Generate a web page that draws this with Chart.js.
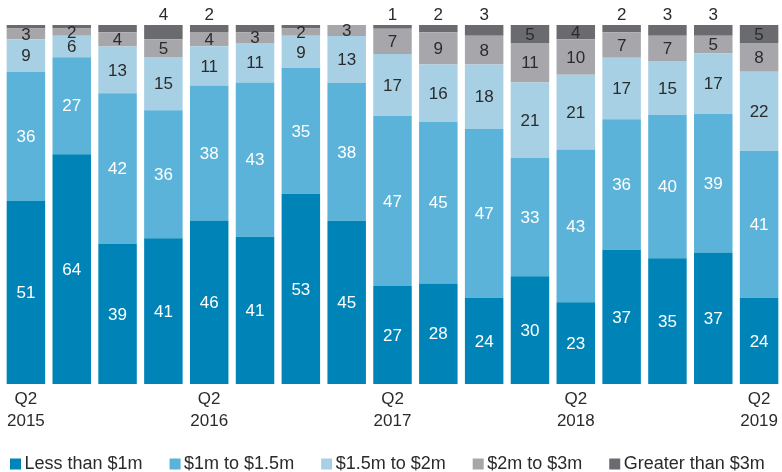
<!DOCTYPE html>
<html>
<head>
<meta charset="utf-8">
<script src="https://cdn.jsdelivr.net/npm/chart.js@4/dist/chart.umd.min.js"></script>
<style>
html,body{margin:0;padding:0;background:#fff;}
#wrap{width:782px;height:472px;position:relative;}
</style>
</head>
<body>
<div id="wrap"><canvas id="c" width="782" height="472"></canvas></div>
<script>
const categories = ['Q2 2015','Q3 2015','Q4 2015','Q1 2016','Q2 2016','Q3 2016','Q4 2016','Q1 2017','Q2 2017','Q3 2017','Q4 2017','Q1 2018','Q2 2018','Q3 2018','Q4 2018','Q1 2019','Q2 2019'];
const tickLabels = [['Q2','2015'],'','','',['Q2','2016'],'','','',['Q2','2017'],'','','',['Q2','2018'],'','','',['Q2','2019']];
const seriesNames = ['Less than $1m','$1m to $1.5m','$1.5m to $2m','$2m to $3m','Greater than $3m'];
const lessThan1m = [51,64,39,41,46,41,53,45,27,28,24,30,23,37,35,37,24];
const m1to1_5 = [36,27,42,36,38,43,35,38,47,45,47,33,43,36,40,39,41];
const m1_5to2 = [9,6,13,15,11,11,9,13,17,16,18,21,21,17,15,17,22];
const m2to3 = [3,2,4,5,4,3,2,3,7,9,8,11,10,7,7,5,8];
const gt3m = [1,1,2,4,2,2,1,0,1,2,3,5,4,2,3,3,5];
// where the "Greater than $3m" label is shown: inside the segment, above the bar, or not shown
const gt3mLabelPos = ['','','','above','above','','','','above','above','above','inside','inside','above','above','above','inside'];

const raw = [lessThan1m, m1to1_5, m1_5to2, m2to3, gt3m];
const totals = categories.map((_, i) => raw.reduce((s, arr) => s + arr[i], 0));
const colors = ['#0084b7','#5cb3d9','#a7d0e5','#a7a7ab','#6a6b6f'];
const textColors = ['#ffffff','#ffffff','#2b2b2b','#2b2b2b','#2b2b2b'];

const datasets = raw.map((arr, k) => ({
  label: seriesNames[k],
  data: arr.map((v, i) => v / totals[i] * 100),
  rawValues: arr,
  backgroundColor: colors[k],
  borderWidth: 0,
  categoryPercentage: 1.0,
  barPercentage: 0.84
}));

const valueLabels = {
  id: 'valueLabels',
  afterDatasetsDraw(chart) {
    const ctx = chart.ctx;
    ctx.save();
    ctx.font = '17px "Liberation Sans", Arial, sans-serif';
    ctx.textAlign = 'center';
    ctx.textBaseline = 'middle';
    chart.data.datasets.forEach((ds, di) => {
      const meta = chart.getDatasetMeta(di);
      meta.data.forEach((bar, i) => {
        const v = ds.rawValues[i];
        let pos = di === 4 ? gt3mLabelPos[i] : 'inside';
        if (!pos) return;
        if (pos === 'inside') {
          ctx.fillStyle = textColors[di];
          ctx.fillText(String(v), bar.x, (bar.y + bar.base) / 2 + 1);
        } else {
          ctx.fillStyle = '#2b2b2b';
          ctx.fillText(String(v), bar.x, chart.chartArea.top - 10);
        }
      });
    });
    ctx.restore();
  }
};

const customLegend = {
  id: 'customLegend',
  afterDraw(chart) {
    const ctx = chart.ctx;
    ctx.save();
    ctx.font = '18px "Liberation Sans", Arial, sans-serif';
    ctx.textBaseline = 'middle';
    ctx.textAlign = 'left';
    let x = 10;
    const yc = 464;
    chart.data.datasets.forEach((ds, k) => {
      ctx.fillStyle = colors[k];
      ctx.fillRect(x, yc - 5.5, 11, 11);
      ctx.fillStyle = '#2b2b2b';
      ctx.fillText(ds.label, x + 14.5, yc);
      x += 14.5 + ctx.measureText(ds.label).width + 27;
    });
    ctx.restore();
  }
};

new Chart(document.getElementById('c'), {
  type: 'bar',
  data: { labels: tickLabels, datasets },
  options: {
    responsive: false,
    animation: false,
    layout: { padding: { top: 25, left: 3, right: -2, bottom: 0 } },
    plugins: { legend: { display: false }, tooltip: { enabled: false } },
    scales: {
      x: {
        stacked: true,
        grid: { display: false, drawTicks: false },
        border: { display: false },
        ticks: {
          autoSkip: false, maxRotation: 0, minRotation: 0, padding: 4,
          color: '#2b2b2b',
          font: { family: '"Liberation Sans", Arial, sans-serif', size: 17, lineHeight: 1.3 }
        },
        afterFit(scale) { scale.height = 88; }
      },
      y: {
        stacked: true, display: false, min: 0, max: 100
      }
    }
  },
  plugins: [valueLabels, customLegend]
});
</script>
</body>
</html>
